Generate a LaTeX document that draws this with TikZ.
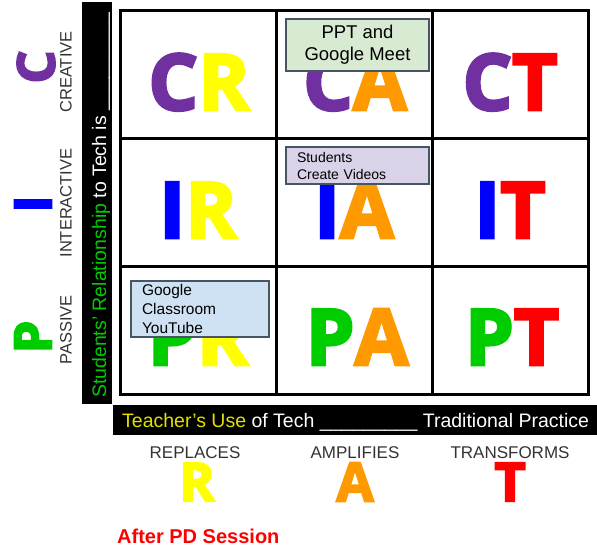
\documentclass[tikz,border=0pt]{standalone}
\usepackage{fontspec}
\setmainfont{Liberation Sans}
\newfontfamily\heavyfont{Open Sans}[BoldFeatures={FakeBold=3.5}]
\definecolor{cpurple}{RGB}{112,48,160}
\definecolor{iblue}{RGB}{0,0,255}
\definecolor{pgreen}{RGB}{0,204,0}
\definecolor{ryellow}{RGB}{255,255,0}
\definecolor{aorange}{RGB}{255,153,0}
\definecolor{tred}{RGB}{255,0,0}
\definecolor{labelgray}{RGB}{51,51,51}
\definecolor{baryellow}{RGB}{225,225,0}
\definecolor{notegreen}{RGB}{217,234,211}
\definecolor{notepurple}{RGB}{217,210,233}
\definecolor{noteblue}{RGB}{207,226,243}
\definecolor{noteedge}{RGB}{70,85,100}

\begin{document}
\begin{tikzpicture}[x=1pt,y=-1pt,
  cellletters/.style={anchor=base,inner sep=0pt,font=\heavyfont\bfseries\fontsize{78}{78}\selectfont},
  sideletter/.style={rotate=90,inner sep=0pt,font=\heavyfont\bfseries\fontsize{52}{52}\selectfont},
  footletter/.style={inner sep=0pt,font=\heavyfont\bfseries\fontsize{54}{54}\selectfont},
  sideword/.style={rotate=90,inner sep=0pt,text=labelgray,font=\fontsize{16.5}{16.5}\selectfont},
  footword/.style={inner sep=0pt,text=labelgray,font=\fontsize{17}{17}\selectfont},
  note/.style={draw=noteedge,line width=1.2pt,inner ysep=1pt}]
\useasboundingbox (0,0) rectangle (597,548);
% black bars
\fill[black] (82,2) rectangle (112,404);
\fill[black] (113,405) rectangle (597,435);
\node[rotate=90,anchor=base west,inner sep=0pt,text=white,font=\fontsize{19.5}{19.5}\selectfont] (relation) at (106,398)
  {\textcolor{pgreen}{Students' Relationship} to Tech is \_\_\_\_\_\_\_\_\_};
\node[anchor=base west,inner sep=0pt,text=white,font=\fontsize{19.5}{19.5}\selectfont] (teacher) at (122,427)
  {\textcolor{baryellow}{Teacher's Use} of Tech \_\_\_\_\_\_\_\_\_ Traditional Practice};
% grid
\draw[line width=3pt] (120,11) rectangle (588,394);
\draw[line width=3pt] (276,11) -- (276,394) (432,11) -- (432,394);
\draw[line width=3pt] (120,139) -- (588,139) (120,266) -- (588,266);
% cells
\node[cellletters] (CR) at (199,110) {\textcolor{cpurple}{C}\textcolor{ryellow}{R}};
\node[cellletters] (CA) at (355,110) {\textcolor{cpurple}{C}\textcolor{aorange}{A}};
\node[cellletters] (CT) at (510,110) {\textcolor{cpurple}{C}\textcolor{tred}{T}};
\node[cellletters] (IR) at (198,238) {\textcolor{iblue}{I}\textcolor{ryellow}{R}};
\node[cellletters] (IA) at (354,238) {\textcolor{iblue}{I}\textcolor{aorange}{A}};
\node[cellletters] (IT) at (510,238) {\textcolor{iblue}{I}\textcolor{tred}{T}};
\node[cellletters] (PR) at (198,365) {\textcolor{pgreen}{P}\textcolor{ryellow}{R}};
\node[cellletters] (PA) at (357,365) {\textcolor{pgreen}{P}\textcolor{aorange}{A}};
\node[cellletters] (PT) at (512,365) {\textcolor{pgreen}{P}\textcolor{tred}{T}};
% notes
\node[note,fill=notegreen,minimum width=143pt,minimum height=52pt,align=center,font=\fontsize{18.5}{22}\selectfont] (meet) at (357.5,45) {PPT and\\Google Meet};
\node[note,fill=notepurple,inner xsep=11pt,text width=121pt,minimum height=37pt,align=left,font=\fontsize{14}{17}\selectfont] (videos) at (357.5,165.5) {Students\\Create Videos};
\node[note,fill=noteblue,inner xsep=11pt,text width=116pt,minimum height=56pt,align=left,font=\fontsize{15.5}{19}\selectfont] (classroom) at (200,309) {Google\\Classroom\\YouTube};
% side axis
\node[sideword] (creative) at (66,72) {CREATIVE};
\node[sideword] (interactive) at (66,203) {INTERACTIVE};
\node[sideword] (passive) at (66,330) {PASSIVE};
\node[sideletter,text=cpurple] (sideC) at (36,67) {C};
\node[sideletter,text=iblue] (sideI) at (33,204) {I};
\node[sideletter,text=pgreen] (sideP) at (33,337) {P};
% foot axis
\node[footword] (replaces) at (195,453) {REPLACES};
\node[footword] (amplifies) at (355,453) {AMPLIFIES};
\node[footword] (transforms) at (510,453) {TRANSFORMS};
\node[footletter,text=ryellow] (footR) at (197,482) {R};
\node[footletter,text=aorange] (footA) at (355,482) {A};
\node[footletter,text=tred] (footT) at (510,482) {T};
\node[anchor=base west,inner sep=0pt,text=tred,font=\bfseries\fontsize{20}{20}\selectfont] (session) at (117,543) {After PD Session};
\end{tikzpicture}
\end{document}
